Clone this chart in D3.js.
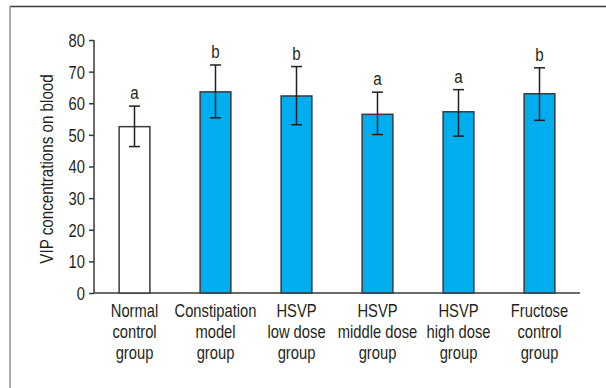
<!DOCTYPE html>
<html>
<head>
<meta charset="utf-8">
<script src="https://cdn.jsdelivr.net/npm/d3@7"></script>
<style>
  body { margin: 0; background: #fff; }
  svg text { font-family: "Liberation Sans", Arial, sans-serif; fill: #231f20; }
</style>
</head>
<body>
<script>
// chart data
const groups = [
  ["Normal", "control", "group"],
  ["Constipation", "model", "group"],
  ["HSVP", "low dose", "group"],
  ["HSVP", "middle dose", "group"],
  ["HSVP", "high dose", "group"],
  ["Fructose", "control", "group"]
];
const means = [52.6, 63.6, 62.3, 56.5, 57.3, 63.0];
const errUp = [59.1, 72.1, 71.6, 63.5, 64.3, 71.2];
const errLow = [46.3, 55.4, 53.2, 50.1, 49.6, 54.6];
const letters = ["a", "b", "b", "a", "a", "b"];
const yTicks = [0, 10, 20, 30, 40, 50, 60, 70, 80];

let width = 606;
let height = 388;
let margin = {top: 40, right: 26, bottom: 95, left: 94};
let squeeze = 0.82; // condensed look of the original typeface

const svg = d3.select("body").append("svg")
  .attr("width", width)
  .attr("height", height);

// frame (only top and left edges visible)
svg.append("line").attr("x1", 10).attr("x2", width).attr("y1", 6.5).attr("y2", 6.5)
  .attr("stroke", "#3a3a3a").attr("stroke-width", 1.5);
svg.append("line").attr("x1", 10).attr("x2", 10).attr("y1", 6).attr("y2", height)
  .attr("stroke", "#8c8c8c").attr("stroke-width", 1.5);

const x = d3.scaleBand()
  .domain(d3.range(groups.length))
  .range([margin.left, width - margin.right])
  .paddingInner(0.62)
  .paddingOuter(0.31);

const y = d3.scaleLinear()
  .domain([0, 80])
  .range([height - margin.bottom, margin.top]);

const cx = i => x(i) + x.bandwidth() / 2;

// y axis
const yAxis = svg.append("g")
  .attr("transform", `translate(${margin.left},0)`)
  .call(d3.axisLeft(y).tickValues(yTicks).tickSize(5).tickPadding(4));
yAxis.select(".domain").attr("stroke", "#3a3a3a").attr("stroke-width", 1.5)
  .attr("d", `M0,${y(80)}V${y(0)}`);
yAxis.selectAll(".tick line").attr("stroke", "#3a3a3a").attr("stroke-width", 1.5);
yAxis.selectAll(".tick text")
  .attr("font-size", 18)
  .attr("fill", "#231f20")
  .attr("x", -9 / squeeze)
  .attr("dy", "0.36em")
  .attr("transform", `scale(${squeeze},1)`)
  .style("font-family", '"Liberation Sans", Arial, sans-serif');

// x axis line
svg.append("line")
  .attr("x1", margin.left).attr("x2", width - margin.right)
  .attr("y1", y(0)).attr("y2", y(0))
  .attr("stroke", "#3a3a3a").attr("stroke-width", 1.5);

// bars
svg.selectAll("rect.bar")
  .data(means)
  .enter().append("rect")
  .attr("class", "bar")
  .attr("x", (d, i) => x(i))
  .attr("width", x.bandwidth())
  .attr("y", d => y(d))
  .attr("height", d => y(0) - y(d))
  .attr("fill", (d, i) => i === 0 ? "#ffffff" : "#00aeef")
  .attr("stroke", "#3a3a3a")
  .attr("stroke-width", 1.5);

// error bars
const cap = 11;
const err = svg.selectAll("g.err")
  .data(means)
  .enter().append("g")
  .attr("class", "err")
  .attr("stroke", "#231f20")
  .attr("stroke-width", 1.5);
err.append("line")
  .attr("x1", (d, i) => cx(i))
  .attr("x2", (d, i) => cx(i))
  .attr("y1", (d, i) => y(errUp[i]))
  .attr("y2", (d, i) => y(errLow[i]));
err.append("line")
  .attr("x1", (d, i) => cx(i) - cap / 2)
  .attr("x2", (d, i) => cx(i) + cap / 2)
  .attr("y1", (d, i) => y(errUp[i]))
  .attr("y2", (d, i) => y(errUp[i]));
err.append("line")
  .attr("x1", (d, i) => cx(i) - cap / 2)
  .attr("x2", (d, i) => cx(i) + cap / 2)
  .attr("y1", (d, i) => y(errLow[i]))
  .attr("y2", (d, i) => y(errLow[i]));

// significance letters
svg.selectAll("text.sig")
  .data(letters)
  .enter().append("text")
  .attr("class", "sig")
  .attr("transform", (d, i) => `translate(${cx(i)},${y(errUp[i]) - 7}) scale(${squeeze},1)`)
  .attr("text-anchor", "middle")
  .attr("font-size", 18.5)
  .text(d => d);

// category labels, one text per line
const lineGap = 21;
const lab = svg.selectAll("g.cat")
  .data(groups)
  .enter().append("g")
  .attr("class", "cat")
  .attr("transform", (d, i) => `translate(${cx(i)},${y(0) + 24})`);
lab.selectAll("text")
  .data(d => d)
  .enter().append("text")
  .attr("text-anchor", "middle")
  .attr("font-size", 18)
  .attr("transform", (d, j) => `translate(0,${j * lineGap}) scale(${squeeze},1)`)
  .text(d => d);

// y axis title
svg.append("text")
  .attr("transform", `translate(53,169) rotate(-90) scale(${squeeze},1)`)
  .attr("text-anchor", "middle")
  .attr("font-size", 18.5)
  .text("VIP concentrations on blood");
</script>
</body>
</html>
